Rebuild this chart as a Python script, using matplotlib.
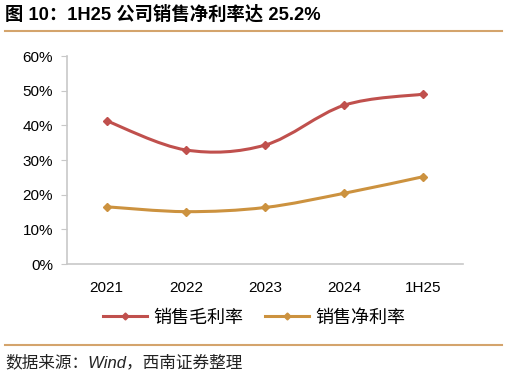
import matplotlib.pyplot as plt
from matplotlib.path import Path
from matplotlib.patches import PathPatch
from matplotlib.lines import Line2D

plt.rcParams['font.family'] = ['Liberation Sans', 'Noto Sans CJK SC', 'DejaVu Sans']

# data
periods = ['2021', '2022', '2023', '2024', '1H25']
gross_margin = [41.3, 32.9, 34.3, 45.8, 49.0]
net_margin = [16.5, 15.1, 16.3, 20.4, 25.2]
yticks = [0, 10, 20, 30, 40, 50, 60]

red = '#C0504D'
gold = '#CC923F'
rule = '#D4A46C'


def smooth_path(xs, ys):
    # Catmull-Rom style bezier through the points (like Excel smoothed lines)
    verts = [(xs[0], ys[0])]
    codes = [Path.MOVETO]
    n = len(xs)
    for i in range(n - 1):
        x0, y0 = (xs[i - 1], ys[i - 1]) if i > 0 else (xs[i], ys[i])
        x1, y1 = xs[i], ys[i]
        x2, y2 = xs[i + 1], ys[i + 1]
        x3, y3 = (xs[i + 2], ys[i + 2]) if i + 2 < n else (x2, y2)
        c1 = (x1 + (x2 - x0) / 6, y1 + (y2 - y0) / 6)
        c2 = (x2 - (x3 - x1) / 6, y2 - (y3 - y1) / 6)
        verts += [c1, c2, (x2, y2)]
        codes += [Path.CURVE4] * 3
    return Path(verts, codes)


fig = plt.figure(figsize=(5.08, 3.78), dpi=100)
ax = fig.add_axes([67 / 508, 1 - 264 / 378, 396 / 508, 208 / 378])

x = list(range(len(periods)))
for vals, c in [(gross_margin, red), (net_margin, gold)]:
    ax.add_patch(PathPatch(smooth_path(x, [v / 100 for v in vals]), fill=False,
                           edgecolor=c, lw=2.2, capstyle='round'))
    ax.plot(x, [v / 100 for v in vals], ls='none', marker='D', ms=4, color=c)

ax.set_xlim(-0.5, 4.5)
ax.set_ylim(0, 0.6)
ax.set_yticks([t / 100 for t in yticks])
ax.set_yticklabels([f'{t}%' for t in yticks], fontsize=11)
ax.set_xticks(x)
ax.set_xticklabels(periods, fontsize=11)
for s in ['top', 'right']:
    ax.spines[s].set_visible(False)
for s in ['left', 'bottom']:
    ax.spines[s].set_color('#C8C8C8')
    ax.spines[s].set_linewidth(1.2)
ax.tick_params(axis='y', length=4, color='#C8C8C8', pad=6)
ax.tick_params(axis='x', length=0, pad=12)

handles = [Line2D([], [], color=red, lw=2.2, marker='D', ms=3.5),
           Line2D([], [], color=gold, lw=2.2, marker='D', ms=3.5)]
fig.legend(handles, ['销售毛利率', '销售净利率'], loc='center',
           bbox_to_anchor=(254 / 508, 1 - 318 / 378), ncol=2, frameon=False,
           fontsize=13, handlelength=2.45, columnspacing=1.2, handletextpad=0.35)

fig.text(5 / 508, 1 - 14 / 378, '图 10：1H25 公司销售净利率达 25.2%',
         fontsize=13.2, fontweight='bold', va='center', ha='left')
fig.add_artist(Line2D([5 / 508, 502 / 508], [1 - 31 / 378, 1 - 31 / 378], color=rule, lw=1.5))
fig.add_artist(Line2D([5 / 508, 502 / 508], [1 - 345 / 378, 1 - 345 / 378], color=rule, lw=1.5))
fig.text(5 / 508, 1 - 362 / 378, '数据来源：Wind，西南证券整理',
         fontsize=12, style='italic', va='center', ha='left', color='#222222')

fig.savefig('out.png', dpi=100)
